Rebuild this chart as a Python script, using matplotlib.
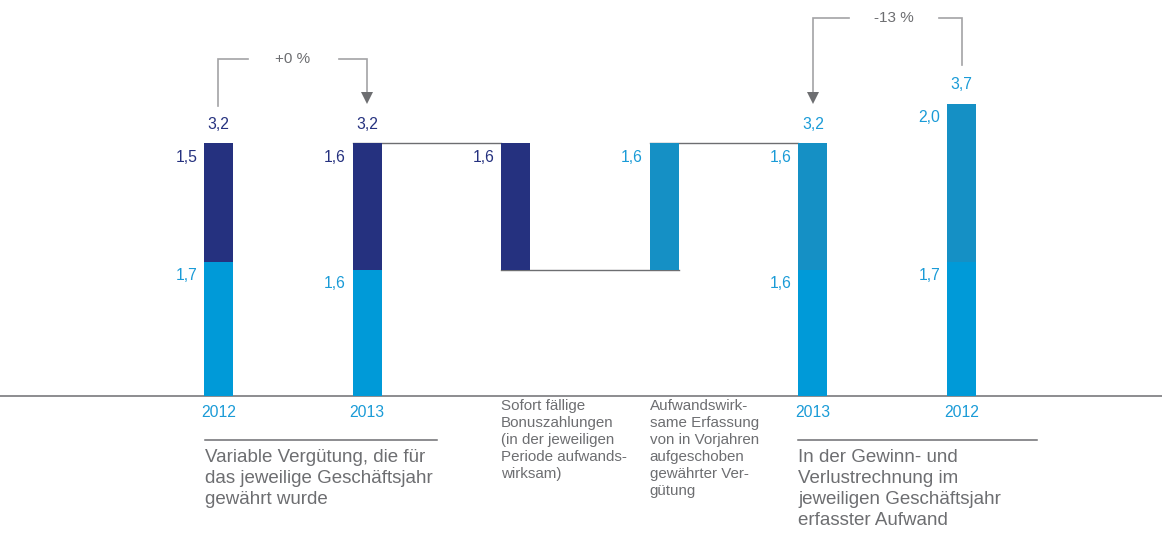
import matplotlib
matplotlib.use("Agg")
import matplotlib.pyplot as plt

plt.rcParams['font.family'] = ['Liberation Sans', 'DejaVu Sans']

# ---- data ----
positions = [0, 1, 2, 3, 4, 5]
year_labels = ["2012", "2013", "", "", "2013", "2012"]
bottom_vals = [1.7, 1.6, 1.6, 1.6, 1.6, 1.7]        # light base segment (or offset for floating bars)
top_vals = [1.5, 1.6, 1.6, 1.6, 1.6, 2.0]           # upper segment
totals = [3.2, 3.2, None, None, 3.2, 3.7]
floating = [False, False, True, True, False, False]
top_kind = ["navy", "navy", "navy", "mid", "mid", "mid"]
change_labels = ["+0 %", "-13 %"]
left_desc = "Variable Vergütung, die für\ndas jeweilige Geschäftsjahr\ngewährt wurde"
right_desc = "In der Gewinn- und\nVerlustrechnung im\njeweiligen Geschäftsjahr\nerfasster Aufwand"
mid_desc = ["Sofort fällige\nBonuszahlungen\n(in der jeweiligen\nPeriode aufwands-\nwirksam)",
            "Aufwandswirk-\nsame Erfassung\nvon in Vorjahren\naufgeschoben\ngewährter Ver-\ngütung"]

NAVY = "#25317f"
LIGHT = "#009ad8"
MID = "#1590c5"
LABEL_LIGHT = "#1a9bd7"
GRAY = "#6d6e71"
LGRAY = "#a3a3a5"
colors = {"navy": NAVY, "mid": MID}
label_colors = {"navy": NAVY, "mid": LABEL_LIGHT}

fig = plt.figure(figsize=(11.62, 5.33), dpi=100)
ax = fig.add_axes([0, 0, 1, 1])
ax.set_xlim(-1.470, 6.349)
ax.set_ylim(-1.734, 5.013)
ax.axis('off')

W = 0.195
fs_num = 11.3

# baseline
ax.axhline(0, color=GRAY, lw=1.1, zorder=1)

# connector lines
ax.plot([1 - W/2, 2 - W/2], [3.2, 3.2], color=GRAY, lw=1, zorder=1)
ax.plot([2 - W/2, 3 + W/2], [1.6, 1.6], color=GRAY, lw=1, zorder=1)
ax.plot([3 - W/2, 4 - W/2], [3.2, 3.2], color=GRAY, lw=1, zorder=1)

for x, yl, b, t, tot, fl, k in zip(positions, year_labels, bottom_vals, top_vals,
                                     totals, floating, top_kind):
    if fl:
        ax.bar(x, t, W, bottom=b, color=colors[k], zorder=2)
        ax.text(x - W/2 - 0.045, b + t - 0.18, f"{t:.1f}".replace('.', ','),
                ha='right', va='center', fontsize=fs_num, color=label_colors[k])
    else:
        ax.bar(x, b, W, color=LIGHT, zorder=2)
        ax.bar(x, t, W, bottom=b, color=colors[k], zorder=2)
        ax.text(x - W/2 - 0.045, b - 0.17, f"{b:.1f}".replace('.', ','),
                ha='right', va='center', fontsize=fs_num, color=LABEL_LIGHT)
        ax.text(x - W/2 - 0.045, b + t - 0.18, f"{t:.1f}".replace('.', ','),
                ha='right', va='center', fontsize=fs_num, color=label_colors[k])
        tc = NAVY if k == "navy" else LABEL_LIGHT
        ax.text(x, tot + 0.24, f"{tot:.1f}".replace('.', ','),
                ha='center', va='center', fontsize=fs_num, color=tc)
    if yl:
        ax.text(x, -0.21, yl, ha='center', va='center', fontsize=fs_num, color=LABEL_LIGHT)

# brackets
def bracket(x_from, x_to, y_from, y_h, y_tip, gap_l, gap_r, label, lx):
    ax.plot([x_from, x_from, gap_l], [y_from, y_h, y_h], color=LGRAY, lw=1.2,
            solid_joinstyle='miter', zorder=3)
    ax.plot([gap_r, x_to, x_to], [y_h, y_h, y_tip + 0.08], color=LGRAY, lw=1.2,
            solid_joinstyle='miter', zorder=3)
    ax.plot([x_to], [y_tip + 0.065], marker='v', markersize=9, color=GRAY,
            markeredgewidth=0, zorder=4)
    ax.text(lx, y_h, label, ha='center', va='center', fontsize=fs_num - 0.3, color=GRAY)

bracket(0, 1, 3.67, 4.266, 3.709, 0.199, 0.811, change_labels[0], 0.50)
bracket(5, 4, 4.19, 4.785, 3.709, 4.849, 4.243, change_labels[1], 4.546)

# descriptions
ax.plot([-0.091, 1.47], [-0.557, -0.557], color=GRAY, lw=1.1)
ax.plot([3.9, 5.508], [-0.557, -0.557], color=GRAY, lw=1.1)
ax.text(-0.091, -0.665, left_desc, ha='left', va='top', fontsize=13.5, color=GRAY,
        linespacing=1.33)
ax.text(3.9, -0.665, right_desc, ha='left', va='top', fontsize=13.5, color=GRAY,
        linespacing=1.33)
ax.text(2 - W/2, -0.04, mid_desc[0], ha='left', va='top', fontsize=10.9, color=GRAY,
        linespacing=1.27)
ax.text(3 - W/2, -0.04, mid_desc[1], ha='left', va='top', fontsize=10.9, color=GRAY,
        linespacing=1.27)

fig.savefig("out.png", dpi=100)
